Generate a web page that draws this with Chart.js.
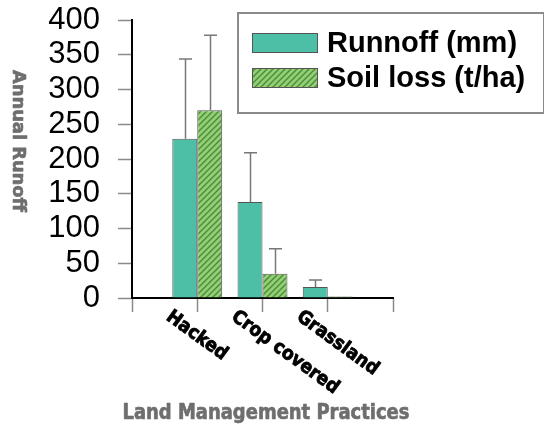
<!DOCTYPE html>
<html>
<head>
<meta charset="utf-8">
<script src="https://cdn.jsdelivr.net/npm/chart.js@4/dist/chart.umd.min.js"></script>
<style>
  html, body { margin: 0; padding: 0; background: #ffffff; }
  #wrap { width: 544px; height: 432px; }
</style>
</head>
<body>
<div id="wrap"><canvas id="c" width="544" height="432"></canvas></div>
<script>
// Land management practices and their mean annual runoff / soil loss
const categories = ['Hacked', 'Crop covered', 'Grassland'];
const runoffMm = [229, 138, 16];
const runoffSd = [115, 71, 10];
const soilLoss = [270, 35, 2];
const soilLossSd = [108, 36, 0];
const yTicks = [0, 50, 100, 150, 200, 250, 300, 350, 400];
const seriesNames = ['Runnoff (mm)', 'Soil loss (t/ha)'];
const yTitle = 'Annual Runoff';
const xTitle = 'Land Management Practices';

const TEAL = '#4cbfa6';
const EDGE = '#555555';
const CONDENSED = '"DejaVu Sans Condensed", "DejaVu Sans", sans-serif';

// diagonal hatch fill for the soil-loss series
function hatchPattern() {
  const s = 6;
  const t = document.createElement('canvas');
  t.width = s; t.height = s;
  const g = t.getContext('2d');
  g.fillStyle = '#93cf74';
  g.fillRect(0, 0, s, s);
  g.strokeStyle = '#4b8a3a';
  g.lineWidth = 1.4;
  g.beginPath();
  g.moveTo(0, s); g.lineTo(s, 0);
  g.moveTo(-s / 2, s / 2); g.lineTo(s / 2, -s / 2);
  g.moveTo(s / 2, s * 1.5); g.lineTo(s * 1.5, s / 2);
  g.stroke();
  return g.createPattern(t, 'repeat');
}
const HATCH = hatchPattern();

// one empty slot either side so the groups sit on the inner ticks
const labels = ['', ...categories, ''];
const pad = arr => [null, ...arr, null];

// heavy text: fill plus a thin outline in the same colour
function heavyText(ctx, text, x, y, weight) {
  ctx.lineWidth = weight;
  ctx.lineJoin = 'round';
  ctx.strokeStyle = ctx.fillStyle;
  ctx.strokeText(text, x, y);
  ctx.fillText(text, x, y);
}

const errorBars = {
  id: 'errorBars',
  afterDatasetsDraw(chart) {
    const ctx = chart.ctx;
    const sds = [runoffSd, soilLossSd];
    const y = chart.scales.y;
    ctx.save();
    ctx.strokeStyle = '#777777';
    ctx.lineWidth = 1.5;
    chart.data.datasets.forEach((ds, di) => {
      const meta = chart.getDatasetMeta(di);
      meta.data.forEach((bar, i) => {
        const k = i - 1;
        if (k < 0 || k >= categories.length) return;
        const sd = sds[di][k];
        if (!sd) return;
        const top = y.getPixelForValue(ds.data[i] + sd);
        const x = Math.round(bar.x) + 0.5;
        ctx.beginPath();
        ctx.moveTo(x, bar.y);
        ctx.lineTo(x, top);
        ctx.moveTo(x - 6.5, top);
        ctx.lineTo(x + 6.5, top);
        ctx.stroke();
      });
    });
    ctx.restore();
  }
};

const decorations = {
  id: 'decorations',
  afterDraw(chart) {
    const ctx = chart.ctx;
    const xs = chart.scales.x;
    const area = chart.chartArea;
    ctx.save();

    // slanted category labels
    ctx.fillStyle = '#000000';
    ctx.font = 'bold 19px ' + CONDENSED;
    ctx.textAlign = 'left';
    ctx.textBaseline = 'alphabetic';
    categories.forEach((c, k) => {
      const px = xs.getPixelForValue(k + 1);
      ctx.save();
      ctx.translate(px - 32, area.bottom + 21);
      ctx.rotate(36 * Math.PI / 180);
      heavyText(ctx, c, 0, 0, 0.8);
      ctx.restore();
    });

    // axis titles
    ctx.fillStyle = '#6e6e6e';
    ctx.font = 'bold 21px ' + CONDENSED;
    ctx.textAlign = 'center';
    ctx.textBaseline = 'middle';
    let w = ctx.measureText(xTitle).width;
    ctx.save();
    ctx.translate(266, 414);
    ctx.scale(287 / w, 1);
    heavyText(ctx, xTitle, 0, 0, 0.6);
    ctx.restore();

    ctx.font = 'bold 18px ' + CONDENSED;
    w = ctx.measureText(yTitle).width;
    ctx.save();
    ctx.translate(18, 141);
    ctx.rotate(Math.PI / 2);
    ctx.scale(142 / w, 1);
    heavyText(ctx, yTitle, 0, 0, 0.6);
    ctx.restore();

    // boxed legend
    ctx.strokeStyle = '#8a8a8a';
    ctx.lineWidth = 2;
    ctx.strokeRect(238, 13, 306, 100);
    ctx.font = 'bold 29px "Liberation Sans", Arial, sans-serif';
    ctx.textAlign = 'left';
    ctx.textBaseline = 'middle';
    chart.data.datasets.forEach((ds, i) => {
      const top = 33 + i * 35;
      ctx.fillStyle = ds.backgroundColor;
      ctx.fillRect(252, top, 66, 20);
      ctx.strokeStyle = EDGE;
      ctx.lineWidth = 1;
      ctx.strokeRect(252.5, top + 0.5, 65, 19);
      ctx.fillStyle = '#000000';
      ctx.fillText(ds.label, 327, top + 11);
    });
    ctx.restore();
  }
};

new Chart(document.getElementById('c'), {
  type: 'bar',
  data: {
    labels: labels,
    datasets: [
      {
        label: seriesNames[0],
        data: pad(runoffMm),
        backgroundColor: TEAL,
        borderColor: EDGE,
        borderWidth: 1,
        categoryPercentage: 0.765,
        barPercentage: 1
      },
      {
        label: seriesNames[1],
        data: pad(soilLoss),
        backgroundColor: HATCH,
        borderColor: EDGE,
        borderWidth: 1,
        categoryPercentage: 0.765,
        barPercentage: 1
      }
    ]
  },
  options: {
    responsive: false,
    animation: false,
    layout: { padding: { left: 0, right: 151, top: 20, bottom: 0 } },
    plugins: { legend: { display: false }, tooltip: { enabled: false } },
    scales: {
      x: {
        type: 'category',
        offset: false,
        grid: {
          offset: false,
          drawOnChartArea: false,
          drawTicks: true,
          tickLength: 14,
          tickColor: '#8a8a8a',
          tickWidth: 1.5
        },
        border: { display: true, color: '#000000', width: 2 },
        ticks: { display: false },
        afterFit(s) { s.height = 134; s.paddingLeft = 0; s.paddingRight = 0; }
      },
      y: {
        min: 0,
        max: 400,
        afterBuildTicks(s) { s.ticks = yTicks.map(v => ({ value: v })); },
        grid: {
          drawOnChartArea: false,
          drawTicks: true,
          tickLength: 14,
          tickColor: '#8a8a8a',
          tickWidth: 1.5
        },
        border: { display: true, color: '#000000', width: 2 },
        ticks: {
          color: '#000000',
          padding: 18,
          autoSkip: false,
          font: { family: '"Liberation Sans", Arial, sans-serif', size: 31 }
        },
        afterFit(s) { s.width = 132; s.paddingTop = 0; s.paddingBottom = 0; }
      }
    }
  },
  plugins: [errorBars, decorations]
});
</script>
</body>
</html>
